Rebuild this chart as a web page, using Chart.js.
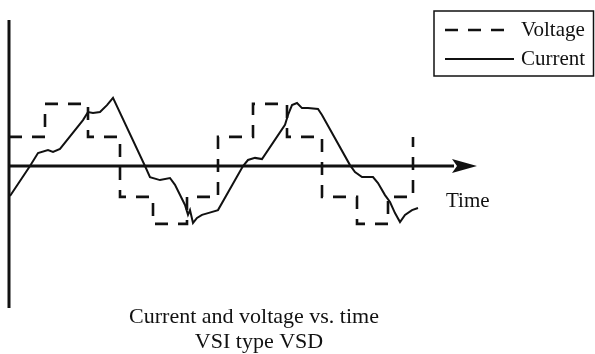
<!DOCTYPE html>
<html><head><meta charset="utf-8">
<script src="https://cdn.jsdelivr.net/npm/chart.js@4/dist/chart.umd.min.js"></script>
<style>html,body{margin:0;padding:0;background:#fff;}#wrap{width:595px;height:354px;}</style>
</head><body><div id="wrap"><canvas id="c" width="595" height="354"></canvas></div>
<script>
// Time (arbitrary units) at which each voltage step begins, and the step level
const voltageTimes  = [0, 36, 79, 111, 144, 178, 209, 244, 278, 313, 348, 379, 404];
const voltageValues = [0.97, 2.07, 0.97, -1.03, -1.93, -1.03, 0.97, 2.07, 0.97, -1.03, -1.93, -1.03, 0.97];
// Current waveform samples
const currentTimes  = [1, 21, 29, 39, 44, 51, 74, 79, 84, 91, 98, 104, 136, 141, 151, 161, 166, 176, 179, 181, 184, 188, 193, 199, 209,
                       234, 239, 246, 253, 276, 279, 283, 288, 293, 299, 309, 313, 341, 346, 353, 364, 369, 376, 381, 386, 391, 396, 403, 409];
const currentValues = [-1.0, 0, 0.43, 0.53, 0.47, 0.57, 1.53, 1.8, 1.77, 1.8, 2.03, 2.27, 0, -0.37, -0.47, -0.4, -0.63, -1.3, -1.63, -1.47, -1.9, -1.73, -1.63, -1.57, -1.47,
                       0, 0.2, 0.27, 0.23, 1.37, 1.7, 2.03, 2.1, 1.93, 1.93, 1.9, 1.7, 0.03, -0.2, -0.37, -0.37, -0.57, -0.97, -1.2, -1.57, -1.87, -1.63, -1.47, -1.4];
const seriesNames = ['Voltage', 'Current'];
const axisLabel = 'Time';
const captionLines = ['Current and voltage vs. time', 'VSI type VSD'];
// axis extents (data units)
const timeAxisEnd = 468, arrowBase = 443;
const valueAxisTop = 4.87, valueAxisBottom = -4.73;

const toXY = (xs, ys) => xs.map((x, i) => ({x: x, y: ys[i]}));
const SERIF = '"Liberation Serif", "DejaVu Serif", serif';

const decor = {
  id: 'decor',
  beforeDatasetsDraw(chart) {
    const {ctx, scales: {x, y}} = chart;
    const x0 = x.getPixelForValue(0), y0 = y.getPixelForValue(0);
    ctx.save();
    ctx.strokeStyle = '#111'; ctx.fillStyle = '#111';
    ctx.lineWidth = 3; ctx.lineCap = 'butt';
    ctx.beginPath();
    ctx.moveTo(x0, y.getPixelForValue(valueAxisTop));
    ctx.lineTo(x0, y.getPixelForValue(valueAxisBottom));
    ctx.stroke();
    ctx.beginPath();
    ctx.moveTo(x0, y0);
    ctx.lineTo(x.getPixelForValue(arrowBase) + 2, y0);
    ctx.stroke();
    const xb = x.getPixelForValue(arrowBase), xt = x.getPixelForValue(timeAxisEnd);
    ctx.beginPath();
    ctx.moveTo(xt, y0); ctx.lineTo(xb, y0 - 7); ctx.lineTo(xb + 5, y0); ctx.lineTo(xb, y0 + 7); ctx.closePath();
    ctx.fill();
    ctx.restore();
  },
  afterDraw(chart) {
    const {ctx} = chart;
    ctx.save();
    ctx.fillStyle = '#111';
    ctx.textBaseline = 'alphabetic';
    // axis label
    ctx.font = '21px ' + SERIF;
    ctx.textAlign = 'left';
    ctx.fillText(axisLabel, 446, 207);
    // caption
    ctx.font = '22px ' + SERIF;
    ctx.textAlign = 'center';
    ctx.fillText(captionLines[0], 254, 323);
    ctx.fillText(captionLines[1], 259, 348);
    // legend box
    ctx.lineWidth = 1.5; ctx.strokeStyle = '#111';
    ctx.strokeRect(434, 11, 159.5, 65);
    const rows = [30, 59];
    chart.data.datasets.forEach((ds, i) => {
      ctx.beginPath();
      ctx.setLineDash(ds.borderDash || []);
      ctx.lineWidth = ds.borderWidth;
      ctx.strokeStyle = ds.borderColor;
      ctx.moveTo(445, rows[i]); ctx.lineTo(514, rows[i]);
      ctx.stroke();
      ctx.setLineDash([]);
      ctx.font = '21px ' + SERIF;
      ctx.textAlign = 'left';
      ctx.fillText(ds.label, 521, rows[i] + 6);
    });
    ctx.restore();
  }
};

new Chart(document.getElementById('c'), {
  type: 'line',
  data: {
    datasets: [
      {label: seriesNames[0], data: toXY(voltageTimes, voltageValues), stepped: 'before',
       borderColor: '#111', borderWidth: 2.6, borderDash: [13, 10], fill: false, pointRadius: 0},
      {label: seriesNames[1], data: toXY(currentTimes, currentValues),
       borderColor: '#111', borderWidth: 2, borderJoinStyle: 'miter', fill: false, pointRadius: 0, tension: 0}
    ]
  },
  options: {
    responsive: false, animation: false, devicePixelRatio: 1,
    layout: {padding: 0},
    scales: {
      x: {type: 'linear', min: -9, max: 586, display: false},
      y: {type: 'linear', min: -6.267, max: 5.533, display: false}
    },
    plugins: {legend: {display: false}, tooltip: {enabled: false}, title: {display: false}}
  },
  plugins: [decor]
});
</script></body></html>
